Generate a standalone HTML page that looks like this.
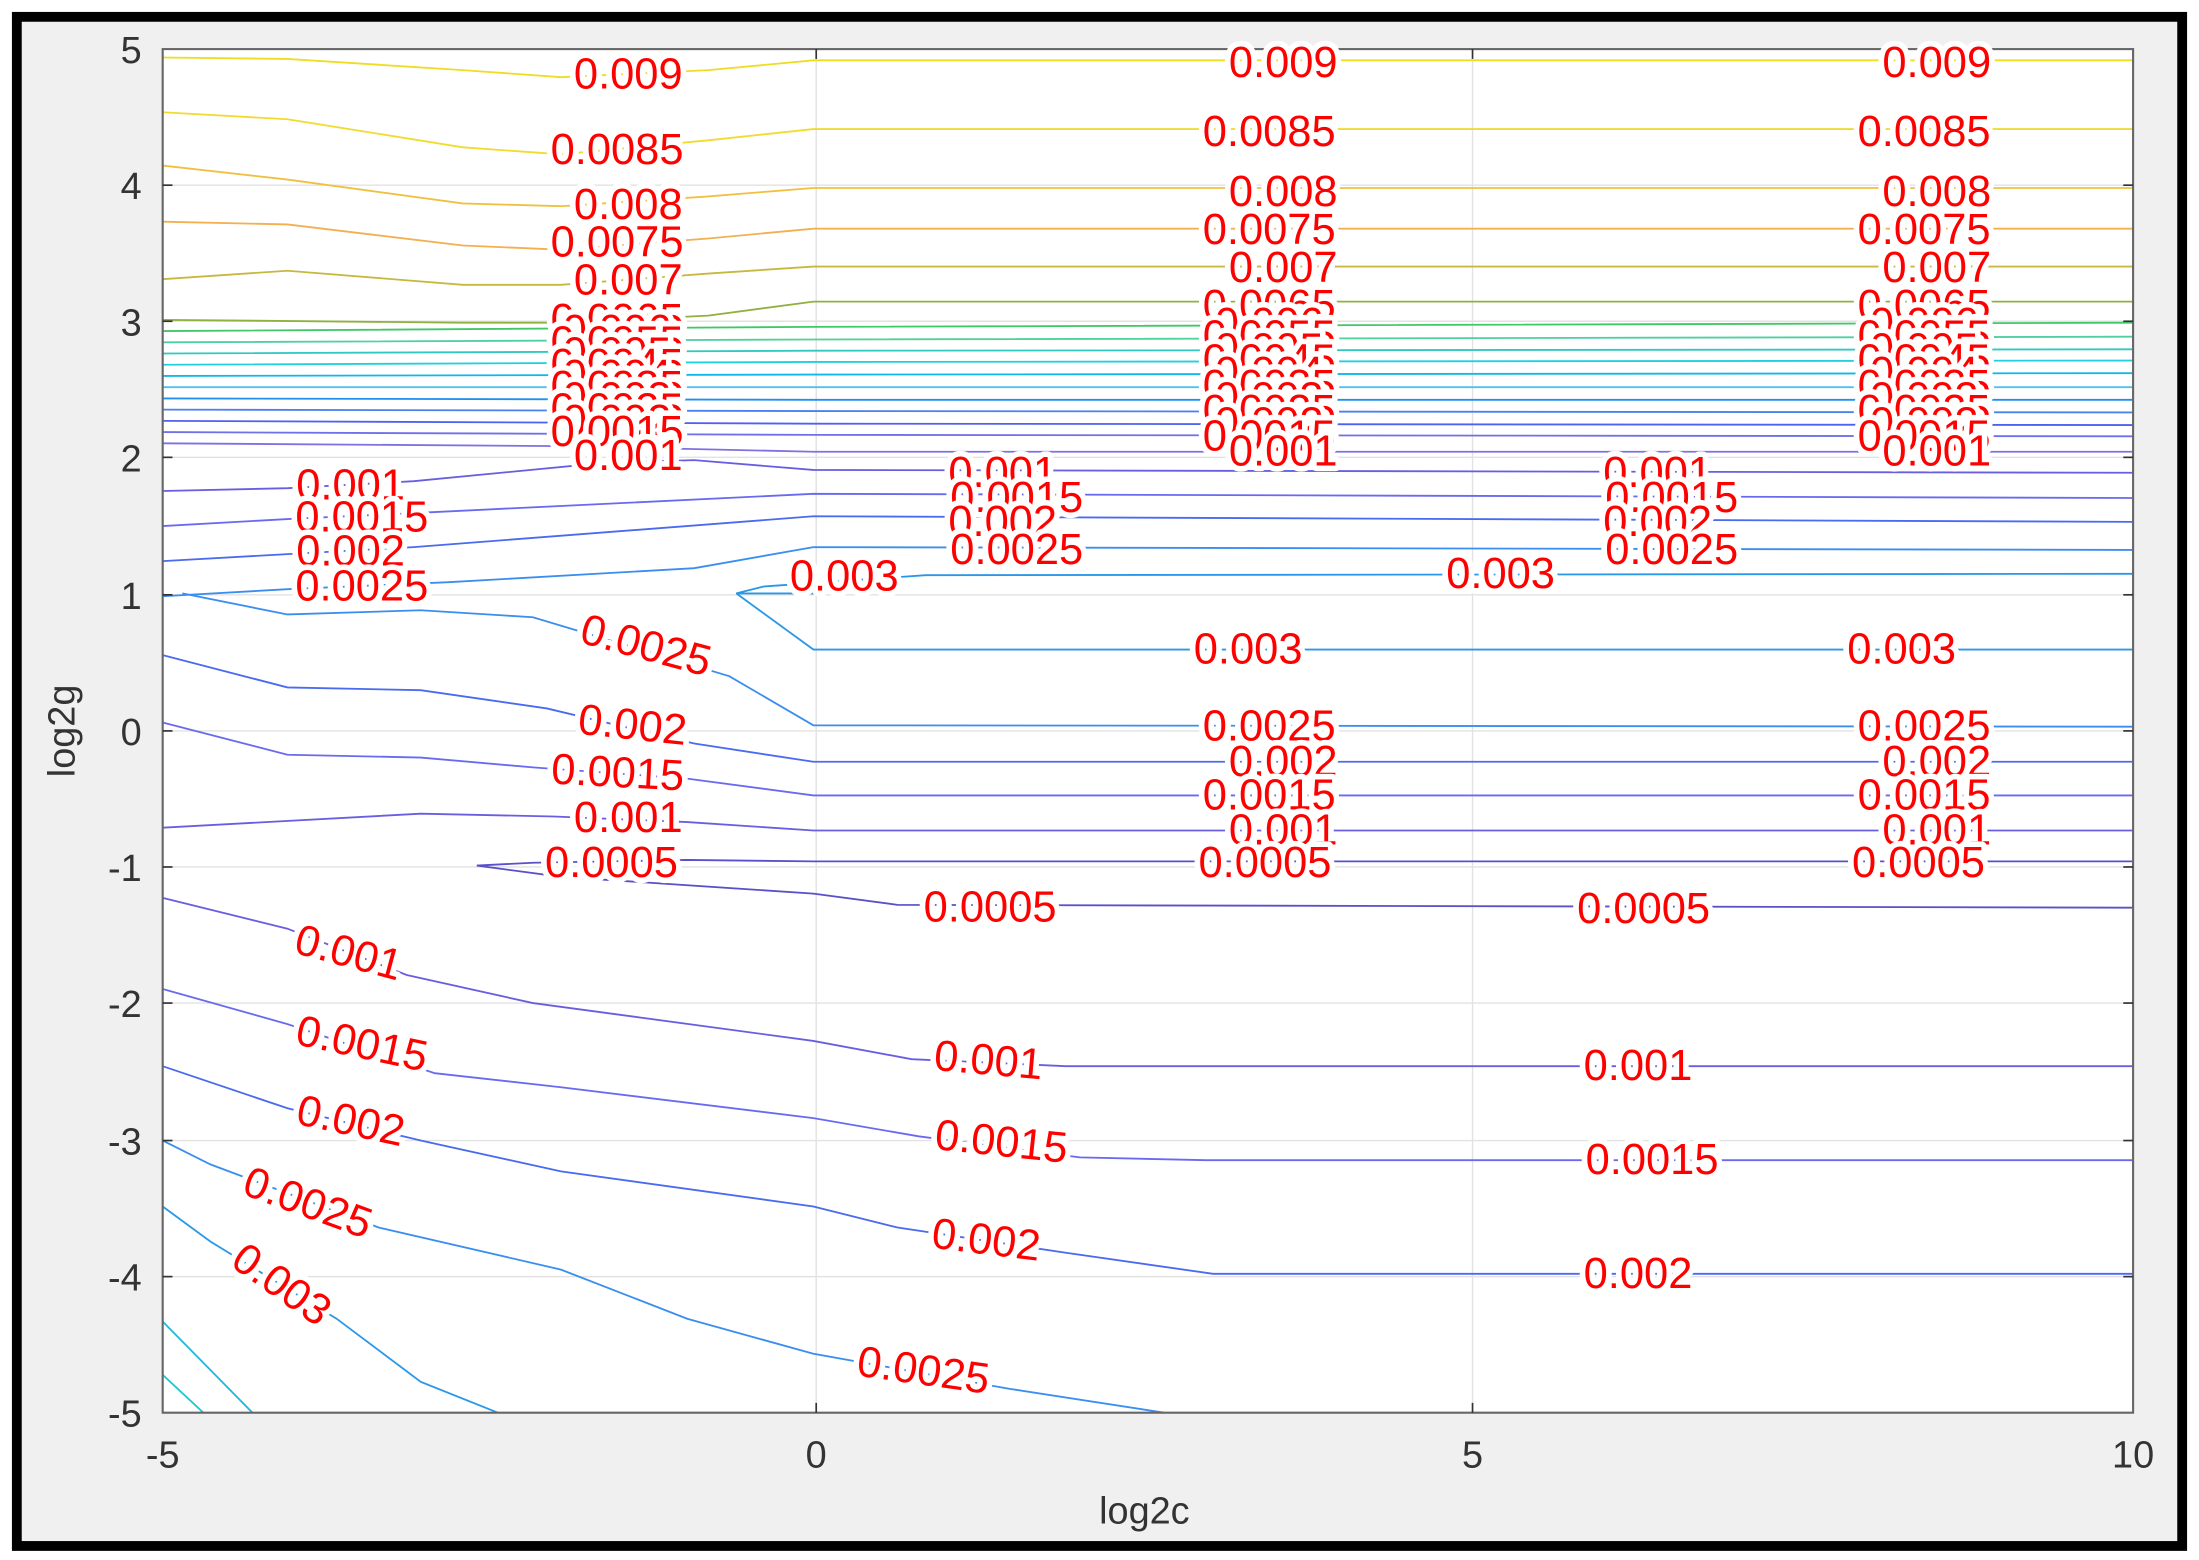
<!DOCTYPE html>
<html><head><meta charset="utf-8"><style>
html,body{margin:0;padding:0;background:#fff}
svg{display:block}
.l{fill:none;stroke-width:1.3}
.t{font-family:"Liberation Sans",sans-serif;font-size:31px;fill:#f00;stroke:#fff;stroke-width:8;paint-order:stroke;stroke-linejoin:round}
.k{font-family:"Liberation Sans",sans-serif;font-size:27px;fill:#333}
</style></head><body>
<svg width="2199" height="1560" viewBox="0 0 1568 1112" preserveAspectRatio="none" xmlns="http://www.w3.org/2000/svg">
<rect x="0" y="0" width="1568" height="1112" fill="#fff"/>
<rect x="12" y="12" width="1544" height="1090" fill="#f0f0f0" stroke="#000" stroke-width="7"/>
<rect x="116" y="35" width="1405" height="972" fill="#fff"/>
<g stroke="#e2e2e2" stroke-width="1">
<line x1="582" y1="35" x2="582" y2="1007"/><line x1="1050" y1="35" x2="1050" y2="1007"/>
<line x1="116" y1="132" x2="1521" y2="132"/><line x1="116" y1="229" x2="1521" y2="229"/><line x1="116" y1="326" x2="1521" y2="326"/><line x1="116" y1="424" x2="1521" y2="424"/><line x1="116" y1="521" x2="1521" y2="521"/><line x1="116" y1="618" x2="1521" y2="618"/><line x1="116" y1="715" x2="1521" y2="715"/><line x1="116" y1="813" x2="1521" y2="813"/><line x1="116" y1="910" x2="1521" y2="910"/>
</g>
<g class="l">
<polyline stroke="#eedd22" points="116,41 205,42 330,50 400,55 505,50 580,43 1521,43"/>
<polyline stroke="#f0dc30" points="116,80 205,85 330,105 400,110 505,100 580,92 1521,92"/>
<polyline stroke="#f0c040" points="116,118 205,128 330,145 400,147 505,140 580,134 1521,134"/>
<polyline stroke="#f2b050" points="116,158 205,160 330,175 400,178 505,170 580,163 1521,163"/>
<polyline stroke="#c8b840" points="116,199 205,193 330,203 400,203 505,195 580,190 1521,190"/>
<polyline stroke="#90b040" points="116,228 330,230 400,230 505,225 580,215 1521,215"/>
<polyline stroke="#40c868" points="116,236 580,233 1521,230"/>
<polyline stroke="#50d0a0" points="116,244 580,242 1521,240"/>
<polyline stroke="#30c8c0" points="116,252 580,250 1521,249"/>
<polyline stroke="#20d0e0" points="116,260 580,258 1521,257"/>
<polyline stroke="#10b8e8" points="116,268 580,267 1521,266"/>
<polyline stroke="#50c0f0" points="116,276 580,276 1521,276"/>
<polyline stroke="#2090f0" points="116,284 580,285 1521,285"/>
<polyline stroke="#4a80f0" points="116,292 580,293 1521,294"/>
<polyline stroke="#5060f0" points="116,300 580,302 1521,303"/>
<polyline stroke="#7070e8" points="116,308 580,310 1521,311"/>
<polyline stroke="#8070e0" points="116,316 400,318 580,322 1521,322"/>
<polyline stroke="#6a5ee0" points="116,350 205,348 295,343 430,330 495,328 580,335 1521,337"/>
<polyline stroke="#6a6af0" points="116,375 205,370 310,365 580,352 1521,355"/>
<polyline stroke="#4a6af0" points="116,400 205,395 295,390 580,368 1521,372"/>
<polyline stroke="#3a8ef0" points="116,425 205,420 320,415 495,405 580,390 1521,392"/>
<polyline stroke="#2a98e8" points="580,423 525,423 545,418 660,410 1521,409"/>
<polyline stroke="#2a98e8" points="525,423 580,463 1521,463"/>
<polyline stroke="#3a8ef0" points="130,423 205,438 300,435 380,440 520,482 580,517 1521,518"/>
<polyline stroke="#4a6af0" points="116,467 205,490 300,492 390,505 495,530 580,543 1521,543"/>
<polyline stroke="#6a6af0" points="116,515 205,538 300,540 380,547 490,555 580,567 1521,567"/>
<polyline stroke="#6a5ee0" points="116,590 300,580 395,582 490,586 580,592 1521,592"/>
<polyline stroke="#5a50c8" points="340,617 380,615 490,613 580,614 1521,614"/>
<polyline stroke="#5a50c8" points="340,617 400,625 580,637 640,645 1521,647"/>
<polyline stroke="#6a5ee0" points="116,640 205,662 290,695 380,715 580,742 650,755 760,760 1521,760"/>
<polyline stroke="#6a6af0" points="116,705 205,730 310,765 400,775 580,797 655,810 770,825 860,827 1521,827"/>
<polyline stroke="#4a6af0" points="116,760 205,790 300,813 400,835 580,860 640,875 760,893 865,908 1521,908"/>
<polyline stroke="#3a8ef0" points="116,813 150,830 270,875 400,905 490,940 580,965 720,990 830,1007"/>
<polyline stroke="#2a98e8" points="116,860 150,885 240,940 300,985 355,1007"/>
<polyline stroke="#20b8e0" points="116,942 180,1007"/>
<polyline stroke="#20c8d0" points="116,980 145,1007"/>
</g>
<rect x="116" y="35" width="1405" height="972" fill="none" stroke="#666" stroke-width="1.5"/>
<g stroke="#333" stroke-width="1.2">
<line x1="582" y1="35" x2="582" y2="42"/><line x1="1050" y1="35" x2="1050" y2="42"/>
<line x1="582" y1="1007" x2="582" y2="1000"/><line x1="1050" y1="1007" x2="1050" y2="1000"/>
<line x1="116" y1="132" x2="123" y2="132"/><line x1="116" y1="229" x2="123" y2="229"/><line x1="116" y1="326" x2="123" y2="326"/><line x1="116" y1="424" x2="123" y2="424"/><line x1="116" y1="521" x2="123" y2="521"/><line x1="116" y1="618" x2="123" y2="618"/><line x1="116" y1="715" x2="123" y2="715"/><line x1="116" y1="813" x2="123" y2="813"/><line x1="116" y1="910" x2="123" y2="910"/>
<line x1="1521" y1="132" x2="1514" y2="132"/><line x1="1521" y1="229" x2="1514" y2="229"/><line x1="1521" y1="326" x2="1514" y2="326"/><line x1="1521" y1="424" x2="1514" y2="424"/><line x1="1521" y1="521" x2="1514" y2="521"/><line x1="1521" y1="618" x2="1514" y2="618"/><line x1="1521" y1="715" x2="1514" y2="715"/><line x1="1521" y1="813" x2="1514" y2="813"/><line x1="1521" y1="910" x2="1514" y2="910"/>
</g>
<g class="k" text-anchor="end">
<text x="101" y="45">5</text><text x="101" y="142">4</text><text x="101" y="239">3</text><text x="101" y="336">2</text><text x="101" y="434">1</text><text x="101" y="531">0</text><text x="101" y="628">-1</text><text x="101" y="725">-2</text><text x="101" y="823">-3</text><text x="101" y="920">-4</text><text x="101" y="1017">-5</text>
</g>
<g class="k" text-anchor="middle">
<text x="116" y="1046">-5</text><text x="582" y="1046">0</text><text x="1050" y="1046">5</text><text x="1521" y="1046">10</text>
<text x="816" y="1086">log2c</text>
<text transform="translate(53,521) rotate(-90)">log2g</text>
</g>
<g class="t" text-anchor="middle">
<text x="448" y="63">0.009</text><text x="915" y="55">0.009</text><text x="1381" y="55">0.009</text>
<text x="440" y="117">0.0085</text><text x="905" y="104">0.0085</text><text x="1372" y="104">0.0085</text>
<text x="448" y="156">0.008</text><text x="915" y="147">0.008</text><text x="1381" y="147">0.008</text>
<text x="440" y="183">0.0075</text><text x="905" y="174">0.0075</text><text x="1372" y="174">0.0075</text>
<text x="448" y="210">0.007</text><text x="915" y="201">0.007</text><text x="1381" y="201">0.007</text>
<text x="440" y="238">0.0065</text><text x="905" y="228">0.0065</text><text x="1372" y="228">0.0065</text>
<text x="440" y="246">0.006</text><text x="905" y="241">0.006</text><text x="1372" y="241">0.006</text>
<text x="440" y="254">0.0055</text><text x="905" y="250">0.0055</text><text x="1372" y="250">0.0055</text>
<text x="440" y="262">0.005</text><text x="905" y="259">0.005</text><text x="1372" y="259">0.005</text>
<text x="440" y="270">0.0045</text><text x="905" y="267">0.0045</text><text x="1372" y="267">0.0045</text>
<text x="440" y="278">0.004</text><text x="905" y="276">0.004</text><text x="1372" y="276">0.004</text>
<text x="440" y="286">0.0035</text><text x="905" y="285">0.0035</text><text x="1372" y="285">0.0035</text>
<text x="440" y="294">0.003</text><text x="905" y="294">0.003</text><text x="1372" y="294">0.003</text>
<text x="440" y="302">0.0025</text><text x="905" y="303">0.0025</text><text x="1372" y="303">0.0025</text>
<text x="440" y="310">0.002</text><text x="905" y="312">0.002</text><text x="1372" y="312">0.002</text>
<text x="440" y="318">0.0015</text><text x="905" y="321">0.0015</text><text x="1372" y="321">0.0015</text>
<text x="448" y="335">0.001</text><text x="915" y="332">0.001</text><text x="1381" y="332">0.001</text>
<text x="250" y="356">0.001</text><text x="715" y="347">0.001</text><text x="1182" y="347">0.001</text>
<text x="258" y="379">0.0015</text><text x="725" y="365">0.0015</text><text x="1192" y="365">0.0015</text>
<text x="250" y="403">0.002</text><text x="715" y="382">0.002</text><text x="1182" y="382">0.002</text>
<text x="258" y="428">0.0025</text><text x="725" y="402">0.0025</text><text x="1192" y="402">0.0025</text>
<text x="602" y="421">0.003</text><text x="1070" y="419">0.003</text>
<text x="890" y="473">0.003</text><text x="1356" y="473">0.003</text>
<text transform="translate(458,470) rotate(15)">0.0025</text>
<text x="905" y="528">0.0025</text><text x="1372" y="528">0.0025</text>
<text transform="translate(450,527) rotate(6)">0.002</text>
<text x="915" y="553">0.002</text><text x="1381" y="553">0.002</text>
<text transform="translate(440,561) rotate(3)">0.0015</text>
<text x="905" y="577">0.0015</text><text x="1372" y="577">0.0015</text>
<text x="448" y="593">0.001</text><text x="915" y="602">0.001</text><text x="1381" y="602">0.001</text>
<text x="436" y="625">0.0005</text><text x="902" y="625">0.0005</text><text x="1368" y="625">0.0005</text>
<text x="706" y="657">0.0005</text><text x="1172" y="658">0.0005</text>
<text transform="translate(246,689) rotate(15)">0.001</text>
<text transform="translate(704,766) rotate(5)">0.001</text><text x="1168" y="770">0.001</text>
<text transform="translate(256,754) rotate(12)">0.0015</text>
<text transform="translate(713,824) rotate(6)">0.0015</text><text x="1178" y="837">0.0015</text>
<text transform="translate(248,809) rotate(12)">0.002</text>
<text transform="translate(702,894) rotate(7)">0.002</text><text x="1168" y="918">0.002</text>
<text transform="translate(216,867) rotate(20)">0.0025</text>
<text transform="translate(657,987) rotate(8)">0.0025</text>
<text transform="translate(195,924) rotate(35)">0.003</text>
</g>
</svg>
</body></html>
